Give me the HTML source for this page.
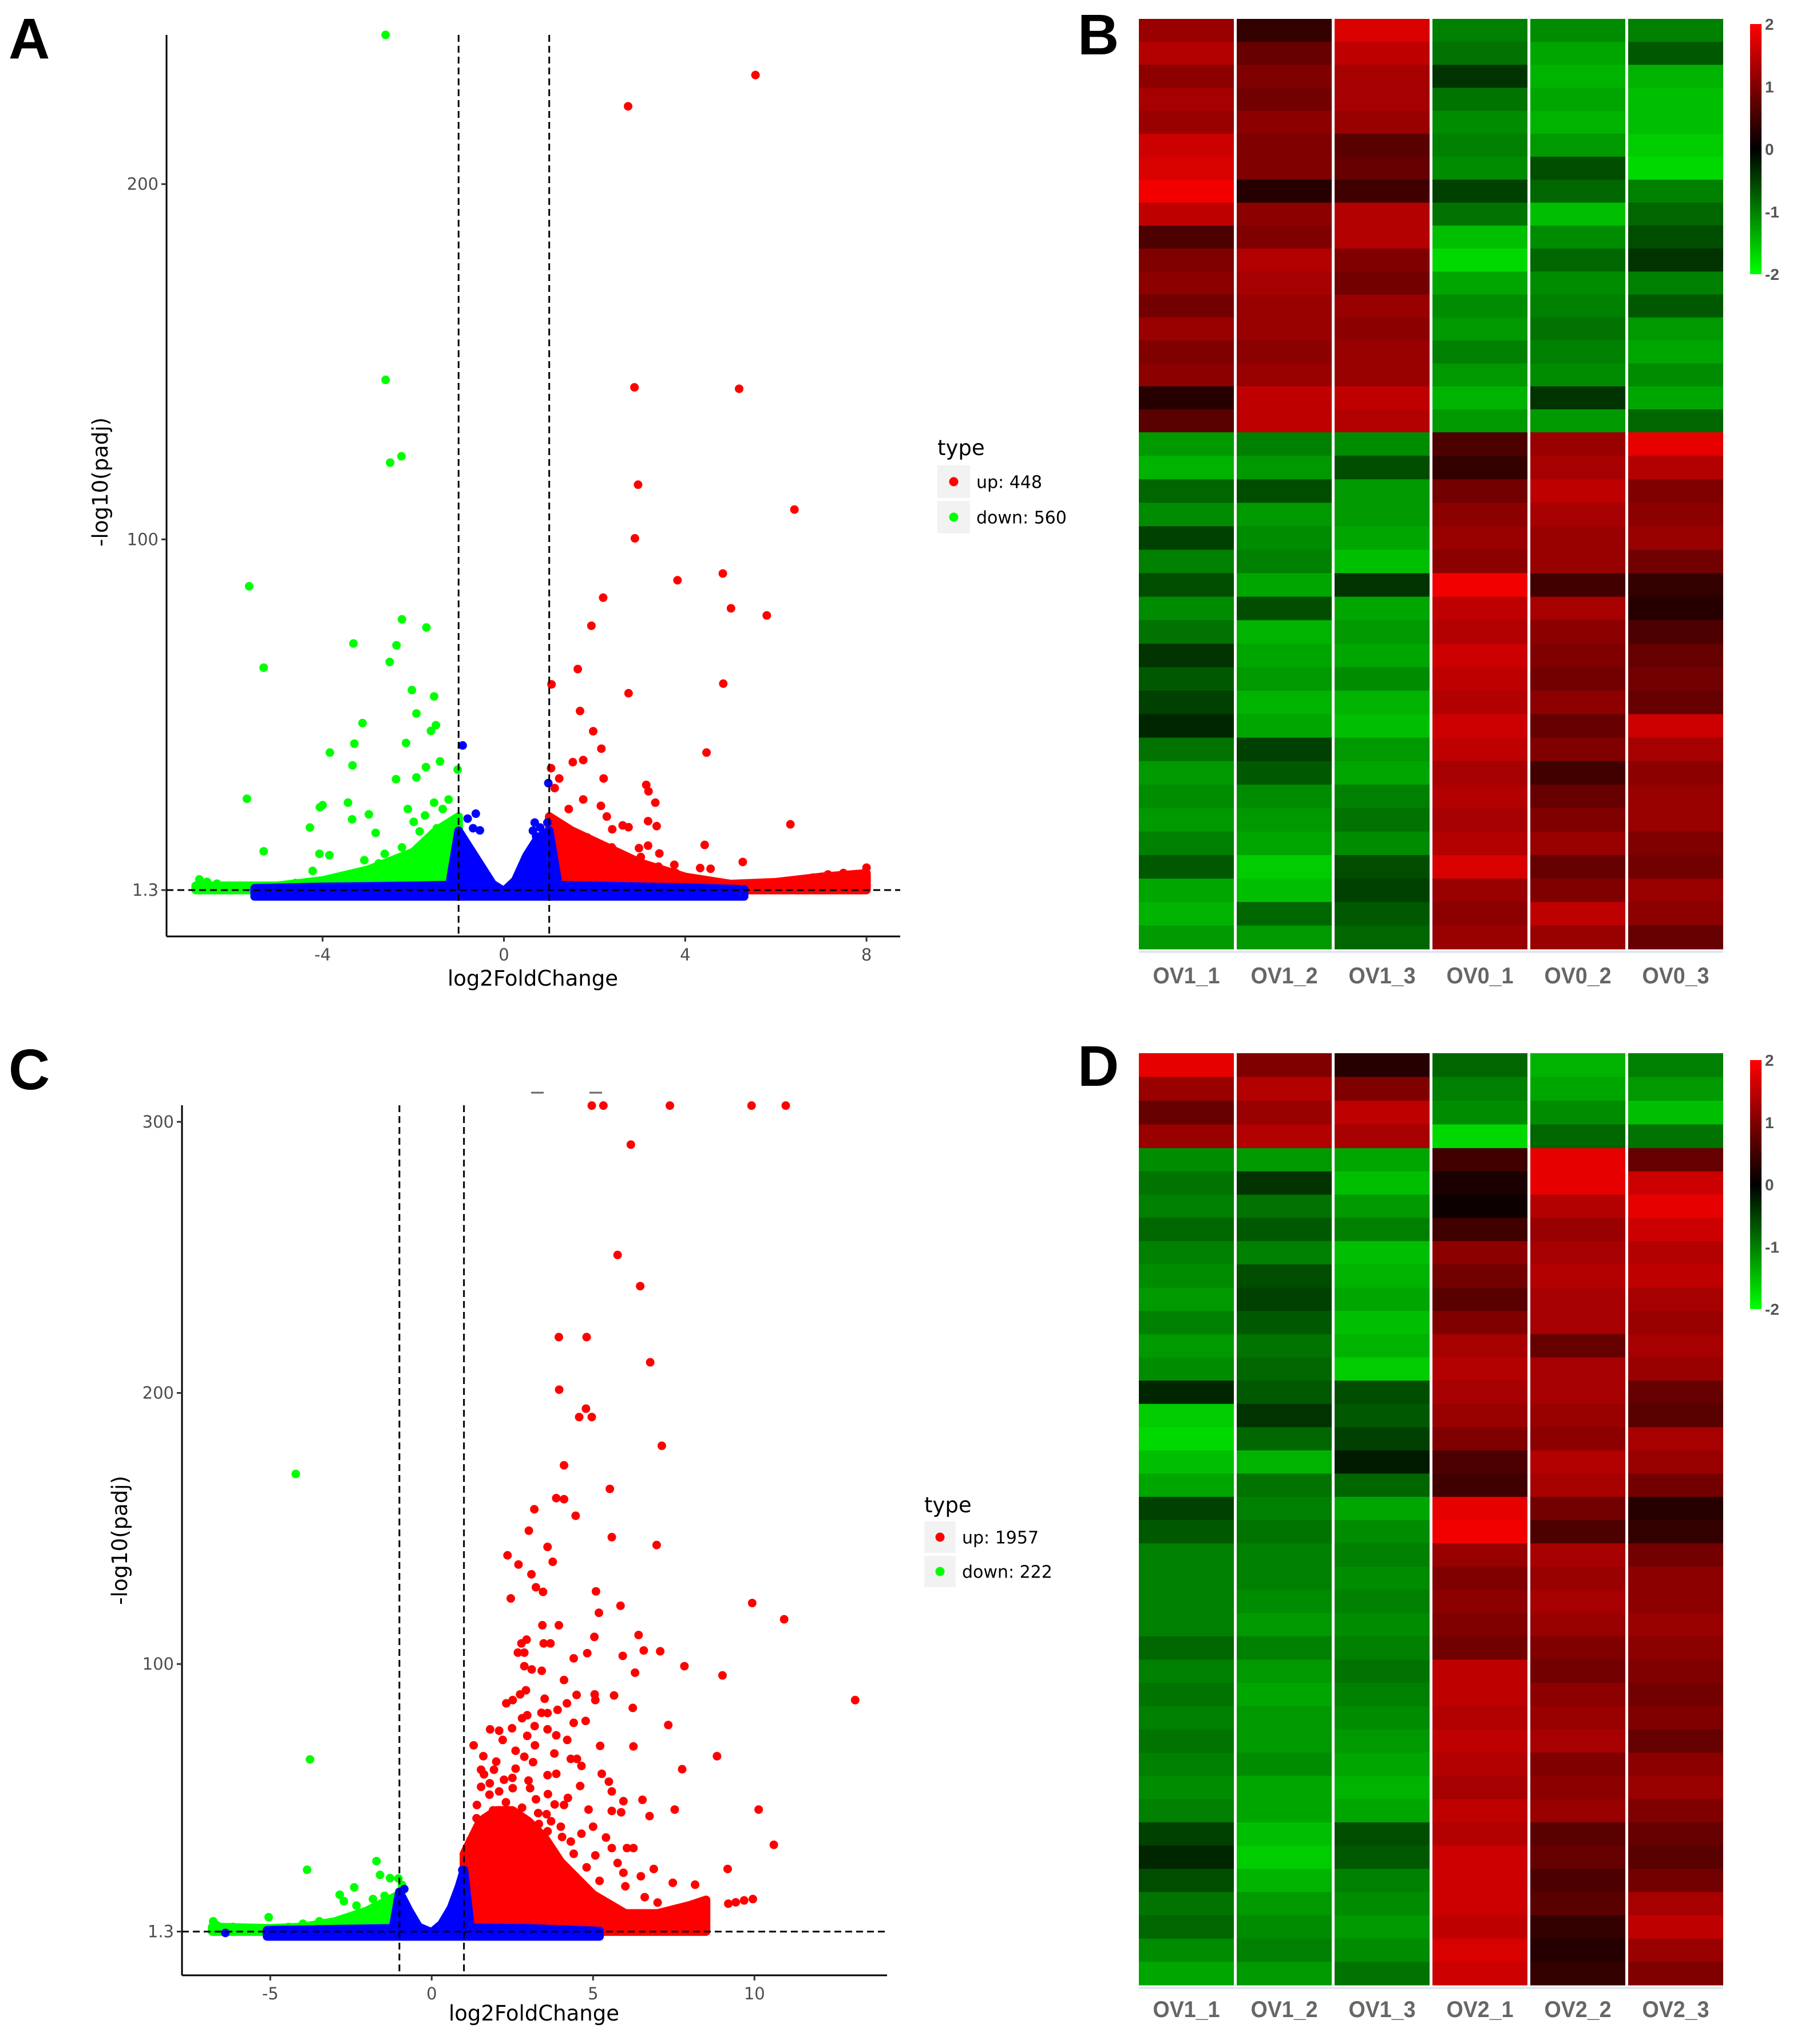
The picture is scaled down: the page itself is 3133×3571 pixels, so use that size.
<!DOCTYPE html>
<html><head><meta charset="utf-8"><style>
html,body{margin:0;padding:0;background:#fff;}
svg{display:block;font-family:"DejaVu Sans","Liberation Sans",sans-serif;}
</style></head><body>
<svg id="fig" xmlns="http://www.w3.org/2000/svg" width="3133" height="3571" viewBox="0 0 3133 3571">
<rect width="3133" height="3571" fill="#fff"/>
<text x="15" y="102" font-family="Liberation Sans, sans-serif" font-weight="bold" font-size="100">A</text>
<text x="1883" y="95" font-family="Liberation Sans, sans-serif" font-weight="bold" font-size="100">B</text>
<text x="15" y="1903" font-family="Liberation Sans, sans-serif" font-weight="bold" font-size="100">C</text>
<text x="1883" y="1897" font-family="Liberation Sans, sans-serif" font-weight="bold" font-size="100">D</text>
<g id="gA"></g>
<g id="gC"></g>
<g id="gB"></g>
<g id="gD"></g>
</svg>
<script>
// ---------- Panel A data ----------
const xTicksA = [-4, 0, 4, 8];
const yTicksA = [1.3, 100, 200];
const yTickLabelsA = ["1.3", "100", "200"];
const downA = [[-2.61,242],[-2.61,144.9],[-2.51,121.6],[-2.26,123.4],[-5.62,86.8],[-5.30,63.9],[-2.25,77.5],[-1.71,75.2],[-3.32,70.7],[-2.37,70.2],[-2.52,65.5],[-2.03,57.6],[-1.54,55.8],[-1.93,51],[-3.12,48.3],[-1.50,47.7],[-1.61,46.1],[-3.30,42.5],[-2.16,42.7],[-3.84,40],[-3.34,36.4],[-1.41,37.5],[-1.72,35.9],[-1.02,35.2],[-5.67,27],[-2.38,32.5],[-1.93,33],[-4.06,24.6],[-4.00,25.2],[-3.44,25.9],[-4.28,18.9],[-2.98,22.6],[-3.35,21.2],[-2.83,17.4],[-5.30,12.2],[-4.07,11.5],[-3.85,11.1],[-4.22,6.7],[-6.72,4.3],[-6.55,3.6],[-6.33,3.1],[-6.00,2.4],[-5.72,2.0],[-4.60,3.3],[-2.12,24.1],[-1.99,20.5],[-1.74,22.3],[-1.54,25.9],[-1.35,24.1],[-1.22,26.8],[-1.86,17.8],[-1.61,15.1],[-2.25,13.3],[-2.63,11.5],[-2.76,8.8],[-3.08,9.7],[-3.41,5.2],[-3.66,4.3],[-1.22,13.3],[-1.16,18.7],[-1.09,16],[-1.48,18.7],[-1.99,9.7],[-2.38,7.9],[-1.54,10.6]];
const upA = [[5.55,230.7],[2.74,221.9],[2.88,142.8],[5.19,142.4],[2.96,115.4],[6.41,108.4],[2.89,100.3],[4.83,90.4],[3.83,88.5],[2.19,83.6],[5.01,80.6],[5.80,78.6],[1.93,75.7],[1.63,63.5],[1.05,59.2],[4.84,59.4],[2.75,56.7],[1.68,51.7],[1.97,46],[2.15,41.1],[4.47,40],[1.52,37.3],[1.75,37.9],[1.04,35.6],[1.22,32.7],[2.20,32.7],[3.14,30.9],[3.19,29.1],[1.12,30],[3.34,25.9],[1.75,26.8],[2.14,25],[1.43,24.1],[3.18,20.7],[3.37,19.3],[6.32,19.8],[2.62,19.5],[2.75,19],[2.27,22],[2.39,18.4],[1.84,16.1],[1.20,16.3],[2.98,13.1],[3.18,13.8],[4.43,14],[5.27,9.2],[3.43,11.6],[3.76,8.4],[4.33,7.5],[4.56,7.3],[8.00,7.6],[7.49,6.1],[7.15,5.7],[6.82,4.8],[6.69,4.1],[6.43,3.6],[6.11,3.1],[1.22,18.7],[1.48,15.1],[1.74,13.3],[1.99,11.5],[1.22,11.5],[2.38,13.3],[2.76,9.7],[3.02,10.6],[1.61,8.8],[2.25,7.9],[3.41,7.9],[3.79,6.1],[1.35,7.9],[4.05,4.3]];
const nsA = [[-0.91,42],[0.98,31.4],[-0.80,21.4],[-0.62,22.8],[-0.68,18.7],[-0.53,18.1],[0.68,20.3],[0.80,18.9],[0.64,18],[0.96,20.3],[0.71,16.4],[-5.40,0]];
const nsBandXA = [-5.5,-4,-2,-1.2,-1.0,-0.8,-0.5,-0.25,0,0.25,0.5,0.75,1.0,1.2,2,4,5.3];
const nsBandTopA = [1.8,2.2,2.5,2.7,18,14,8,3,1.0,4,11,16,18,2.7,2.5,2.0,1.5];
const downBandXA = [-6.8,-5,-4,-3,-2,-1.5,-1.0];
const downBandTopA = [2.5,2.5,4,7,12,18,22];
const upBandXA = [1.0,1.5,2,3,4,5,6,7,8];
const upBandTopA = [22,18,15,9,5,3,3.5,5,6];
const legendA = ["up: 448", "down: 560"];

// ---------- Panel C data ----------
const xTicksC = [-5, 0, 5, 10];
const yTicksC = [1.3, 100, 200, 300];
const yTickLabelsC = ["1.3", "100", "200", "300"];
const upC = [[4.96,306],[5.32,306],[7.38,306],[9.91,306],[10.97,306],[6.17,291.6],[5.76,250.9],[6.46,239.4],[3.94,220.6],[4.80,220.6],[6.77,211.3],[3.95,201.2],[4.78,194.2],[4.57,191.1],[4.96,191.1],[7.13,180.5],[4.10,173.3],[5.52,164.6],[3.18,157.1],[3.86,161.2],[4.10,160.8],[4.46,154.7],[3.01,149.2],[5.58,146.8],[3.59,143.2],[6.97,143.9],[2.35,140.1],[3.75,137.7],[2.69,136.7],[3.09,133.1],[3.23,128.3],[3.45,126.6],[2.45,124.2],[5.09,126.8],[9.93,122.5],[5.18,118.9],[5.85,121.5],[10.92,116.5],[3.43,114.3],[3.94,114.3],[5.04,110],[6.41,110.7],[2.78,107.6],[2.94,109.0],[3.47,107.6],[3.68,107.6],[2.67,104.2],[2.87,104.2],[7.08,104.7],[6.57,105],[4.82,104],[4.40,102.1],[7.83,99.2],[9.01,95.8],[5.92,103],[6.30,96.8],[13.12,86.7],[2.87,99.2],[3.10,98],[3.41,97.5],[4.10,94.1],[4.49,88.6],[5.05,88.8],[5.07,86.7],[5.65,88.4],[6.23,83.8],[6.25,69.6],[7.33,77.5],[7.76,61.2],[8.84,66],[7.53,46.3],[10.13,46.3],[10.60,33.3],[9.17,24.4],[8.16,18.6],[8.43,12.6],[9.19,11.6],[9.42,12.1],[9.68,12.8],[9.95,13.3],[2.31,85.5],[2.74,88.8],[2.51,86.7],[2.92,90.3],[3.50,87.2],[3.90,83.1],[4.19,85.5],[3.59,81.9],[2.96,81.1],[3.19,77.1],[3.59,75.9],[3.86,73.7],[4.40,78.3],[4.77,79],[1.81,75.9],[2.09,75.4],[2.49,76.3],[2.96,73.5],[4.31,65],[4.64,62.4],[5.22,69.8],[5.27,59.5],[5.49,56.6],[5.58,53],[5.94,49.4],[5.87,45.3],[6.53,49.9],[6.75,43.9],[4.86,46.3],[5.58,45.8],[1.53,61],[1.62,59.3],[1.93,61],[2.60,61.4],[2.24,57.3],[2.87,65.8],[3.14,63.8],[3.59,59],[3.86,59.5],[4.22,50.6],[3.81,48.2],[3.56,44.6],[3.23,50.1],[3.05,54.2],[2.51,54.2],[2.09,53],[1.79,51.8],[1.53,54.7],[1.39,43.1],[1.84,42.2],[2.27,44.6],[2.51,39.8],[2.87,38.6],[3.32,41],[3.59,38.3],[4.04,36.2],[4.31,34.5],[4.64,37.4],[5.07,29.4],[5.58,32.1],[6.05,32.1],[6.25,32.1],[6.48,21.7],[6.88,24.4],[5.76,26.6],[5.94,23],[7.47,19.3],[7.56,2.5],[1.2,35],[1.5,38],[1.8,33],[2.1,36],[2.4,34],[2.7,38],[3.0,35],[3.3,33],[1.4,48],[1.9,46],[2.3,49],[2.8,47],[3.3,45],[3.7,42],[4.0,40],[1.6,66],[2.0,64],[2.6,68],[3.2,70],[3.8,67],[1.3,70],[2.2,72],[2.8,80],[3.4,82],[4.2,72],[4.6,55],[5.0,40],[5.4,36],[4.4,30],[4.8,25],[5.2,20],[6.0,18],[6.6,14],[7.0,12],[3.6,52],[4.1,48],[2.5,58],[1.8,56],[3.0,57],[4.5,65]];
const downC = [[-4.21,170.1],[-3.77,64.8],[-3.86,24.1],[-1.71,27.3],[-1.60,22.2],[-1.29,21],[-2.40,17.6],[-2.85,14.9],[-2.72,12.5],[-2.33,10.9],[-2.04,8.5],[-1.82,13.3],[-1.46,14.5],[-1.03,20.9],[-0.92,18.5],[-5.05,6.6],[-6.77,5.1],[-6.66,3.7],[-6.16,3.0],[-3.99,4.2],[-3.48,5.1],[-4.43,3.0]];
const nsC = [[-6.39,0.8],[5.2,0],[-0.85,17],[0.95,24]];
const nsBandXC = [-5.1,-3,-1.2,-1.0,-0.7,-0.4,0,0.3,0.6,0.85,1.0,1.2,3,5.2];
const nsBandTopC = [1.8,2.2,2.5,16,9,3,1.0,4,10,18,24,2.7,2.5,1.5];
const downBandXC = [-6.8,-5,-4,-3,-2,-1.5,-1.0];
const downBandTopC = [3,2.5,3,5,9,12,15];
const upBandXC = [1.0,1.5,2,2.5,3,3.5,4,5,6,7,8,8.5];
const upBandTopC = [30,42,46,46,42,36,27,15,8,8,11,13];
const legendC = ["up: 1957", "down: 222"];

// ---------- Heatmap B data ----------
const samplesB = ["OV1_1","OV1_2","OV1_3","OV0_1","OV0_2","OV0_3"];
const blockCountsB = [448, 560];
const topB = [
 [1.2,1.4,1.1,1.3,1.2,1.6,1.7,1.9,1.5,0.6,1.0,1.1,0.9,1.2,1.0,1.1,0.3,0.7],
 [0.4,0.8,1.0,0.9,1.1,1.0,1.0,0.3,1.1,1.0,1.4,1.3,1.2,1.2,1.1,1.2,1.5,1.5],
 [1.7,1.5,1.3,1.3,1.2,0.7,0.8,0.5,1.4,1.4,1.0,0.9,1.2,1.1,1.2,1.2,1.5,1.4],
 [-1.0,-0.9,-0.4,-0.9,-1.1,-1.0,-1.1,-0.5,-0.9,-1.5,-1.7,-1.3,-1.1,-1.2,-1.0,-1.2,-1.4,-1.2],
 [-1.1,-1.3,-1.4,-1.3,-1.4,-1.2,-0.6,-0.8,-1.5,-1.1,-0.8,-1.1,-1.0,-0.9,-1.0,-1.1,-0.4,-1.2],
 [-1.0,-0.7,-1.4,-1.5,-1.5,-1.6,-1.7,-1.0,-0.8,-0.6,-0.4,-1.0,-0.7,-1.2,-1.3,-1.1,-1.3,-0.8]];
const bottomB = [
 [-1.2,-1.4,-0.8,-1.1,-0.5,-1.0,-0.6,-1.1,-0.9,-0.4,-0.7,-0.5,-0.3,-0.9,-1.2,-1.1,-1.2,-1.0,-0.7,-1.3,-1.4,-1.2],
 [-1.0,-1.2,-0.6,-1.2,-1.1,-1.0,-1.3,-0.6,-1.4,-1.3,-1.2,-1.4,-1.3,-0.5,-0.7,-1.1,-1.2,-1.3,-1.6,-1.5,-0.8,-1.2],
 [-1.1,-0.6,-1.2,-1.2,-1.3,-1.5,-0.4,-1.3,-1.2,-1.3,-1.1,-1.4,-1.5,-1.2,-1.3,-1.0,-0.9,-1.1,-0.6,-0.5,-0.7,-0.8],
 [0.6,0.4,0.9,1.1,1.2,1.1,1.9,1.5,1.4,1.6,1.5,1.4,1.6,1.5,1.3,1.4,1.3,1.4,1.7,1.2,1.1,1.2],
 [1.2,1.3,1.5,1.3,1.2,1.2,0.5,1.3,1.1,1.0,0.9,1.1,0.8,1.0,0.5,0.8,1.0,1.2,0.8,1.0,1.5,1.2],
 [1.8,1.4,1.0,1.1,1.2,0.9,0.4,0.3,0.6,0.8,0.9,0.8,1.6,1.3,1.1,1.2,1.2,1.0,0.9,1.2,1.1,0.8]];

// ---------- Heatmap D data ----------
const samplesD = ["OV1_1","OV1_2","OV1_3","OV2_1","OV2_2","OV2_3"];
const blockCountsD = [222, 1957];
const topD = [[1.8,1.2,0.8,1.2],[1.0,1.4,1.2,1.4],[0.3,1.0,1.5,1.3],[-0.8,-1.0,-1.1,-1.7],[-1.4,-1.3,-1.1,-0.8],[-1.0,-1.2,-1.5,-0.9]];
const bottomD = [
 [-1.1,-0.9,-1.0,-0.8,-1.0,-1.1,-1.2,-1.0,-1.2,-1.1,-0.3,-1.6,-1.7,-1.5,-1.3,-0.5,-0.7,-1.0,-1.0,-1.0,-1.0,-0.8,-1.0,-0.9,-1.0,-0.9,-1.0,-1.1,-1.0,-0.5,-0.3,-0.6,-0.9,-0.8,-1.1,-1.3],
 [-1.2,-0.4,-0.9,-0.7,-1.0,-0.6,-0.5,-0.7,-0.9,-0.8,-0.7,-0.4,-0.8,-1.4,-0.9,-1.0,-0.9,-1.0,-1.0,-1.1,-1.2,-1.0,-1.2,-1.3,-1.2,-1.2,-1.1,-1.3,-1.3,-1.5,-1.6,-1.4,-1.2,-1.1,-1.0,-1.2],
 [-1.3,-1.5,-1.2,-1.0,-1.5,-1.4,-1.3,-1.5,-1.4,-1.6,-0.6,-0.7,-0.5,-0.2,-0.8,-1.3,-1.1,-1.0,-1.1,-1.0,-1.1,-1.0,-0.9,-1.0,-1.1,-1.2,-1.3,-1.4,-1.3,-0.6,-0.7,-1.0,-1.1,-1.2,-1.1,-0.9],
 [0.5,0.2,0.1,0.5,1.1,0.9,0.7,1.0,1.3,1.4,1.3,1.2,1.0,0.6,0.5,1.8,1.9,1.2,1.0,1.1,1.0,0.9,1.5,1.5,1.4,1.5,1.4,1.3,1.5,1.4,1.6,1.6,1.6,1.5,1.7,1.6],
 [1.8,1.8,1.4,1.2,1.3,1.4,1.3,1.3,0.8,1.3,1.3,1.2,1.1,1.4,1.3,0.9,0.6,1.3,1.2,1.3,1.2,1.0,0.9,1.1,1.2,1.3,1.0,1.1,1.2,0.7,0.8,0.6,0.7,0.4,0.3,0.4],
 [0.8,1.6,1.8,1.6,1.4,1.5,1.3,1.2,1.3,1.2,0.8,0.7,1.3,1.2,0.9,0.3,0.4,0.9,1.1,1.1,1.2,1.1,1.0,0.9,1.0,0.8,1.1,1.2,1.0,0.8,0.7,0.9,1.3,1.5,1.2,1.0]];
const colorbarTicks = [2, 1, 0, -1, -2];

const NS = "http://www.w3.org/2000/svg";
function mk(tag, attrs, parent) {
  const e = document.createElementNS(NS, tag);
  for (const k in attrs) e.setAttribute(k, attrs[k]);
  parent.appendChild(e);
  return e;
}
const R = 7.5;

function volcano(g, cfg) {
  const sx = v => cfg.x0 + v * cfg.kx;
  const sy = v => cfg.y13 - (v - 1.3) * cfg.ky;
  function band(xs, tops, bottom, color, name) {
    let pts = [];
    for (let i = 0; i < xs.length; i++) pts.push(sx(xs[i]) + "," + sy(tops[i]));
    for (let i = xs.length - 1; i >= 0; i--) pts.push(sx(xs[i]) + "," + sy(bottom));
    const p = mk("polygon", {points: pts.join(" "), fill: color, stroke: color, "stroke-width": 2 * R, "stroke-linejoin": "round"}, g);
    
    
  }
  band(cfg.downBandX, cfg.downBandTop, 1.3, "#00ff00", "down-density-band");
  band(cfg.upBandX, cfg.upBandTop, 1.3, "#ff0000", "up-density-band");
  function pts(arr, color, name) {
    arr.forEach(d => {
      const c = mk("circle", {cx: sx(d[0]), cy: Math.max(cfg.top, sy(d[1])), r: R, fill: color}, g);
      
      
    });
  }
  pts(cfg.down, "#00ff00", "down-point");
  pts(cfg.up, "#ff0000", "up-point");
  band(cfg.nsBandX, cfg.nsBandTop, -0.5, "#0000ff", "ns-density-band");
  pts(cfg.ns, "#0000ff", "ns-point");
  const dash = {stroke: "#000", "stroke-width": 3, "stroke-dasharray": "12 7", fill: "none"};
  [-1, 1].forEach(v => {
    const l = mk("line", Object.assign({x1: sx(v), x2: sx(v), y1: cfg.top, y2: cfg.bottom}, dash), g);
    
    
  });
  const h = mk("line", Object.assign({x1: cfg.left, x2: cfg.right, y1: sy(1.3), y2: sy(1.3)}, dash), g);
  
  
  const ya = mk("line", {x1: cfg.left, x2: cfg.left, y1: cfg.top, y2: cfg.bottom, stroke: "#000", "stroke-width": 3}, g);
  
  
  const xa = mk("line", {x1: cfg.left, x2: cfg.right, y1: cfg.bottom, y2: cfg.bottom, stroke: "#000", "stroke-width": 3}, g);
  
  
  cfg.xTicks.forEach(v => {
    const t = mk("line", {x1: sx(v), x2: sx(v), y1: cfg.bottom, y2: cfg.bottom + 9, stroke: "#333", "stroke-width": 3}, g);
    
    
    const lb = mk("text", {x: sx(v), y: cfg.bottom + 42, "text-anchor": "middle", "font-size": 29, fill: "#4d4d4d"}, g);
    lb.textContent = String(v);
    
    
  });
  cfg.yTicks.forEach((v, i) => {
    const t = mk("line", {x1: cfg.left - 9, x2: cfg.left, y1: sy(v), y2: sy(v), stroke: "#333", "stroke-width": 3}, g);
    
    
    const lb = mk("text", {x: cfg.left - 14, y: sy(v) + 10, "text-anchor": "end", "font-size": 29, fill: "#4d4d4d"}, g);
    lb.textContent = cfg.yTickLabels[i];
    
    
  });
  const xt = mk("text", {x: cfg.xTitleX, y: cfg.xTitleY, "text-anchor": "middle", "font-size": 37, fill: "#000"}, g);
  xt.textContent = "log2FoldChange";
  
  
  const yt = mk("text", {x: 0, y: 0, "text-anchor": "middle", "font-size": 37, fill: "#000", transform: "translate(" + cfg.yTitleX + "," + cfg.yTitleY + ") rotate(-90)"}, g);
  yt.textContent = "-log10(padj)";
  
  
  const L = cfg.legend;
  const lt = mk("text", {x: L.x, y: L.titleY, "font-size": 37, fill: "#000"}, g);
  lt.textContent = "type";
  
  
  [["#ff0000", "legend-entry-up"], ["#00ff00", "legend-entry-down"]].forEach((c, i) => {
    const y0 = L.boxY + i * (L.box + 5);
    const k = mk("rect", {x: L.x, y: y0, width: L.box, height: L.box, fill: "#f2f2f2"}, g);
    
    
    const d = mk("circle", {cx: L.x + L.box / 2, cy: y0 + L.box / 2, r: 8, fill: c[0]}, g);
    
    
    const tx = mk("text", {x: L.x + L.box + 11, y: y0 + L.box / 2 + 11, "font-size": 30, fill: "#000"}, g);
    tx.textContent = cfg.legendLabels[i];
    
    
  });
}

volcano(document.getElementById("gA"), {
  x0: 880.5, kx: 79.2, y13: 1555, ky: 6.207, left: 291, right: 1573, top: 61, bottom: 1636,
  xTicks: xTicksA, yTicks: yTicksA, yTickLabels: yTickLabelsA,
  up: upA, down: downA, ns: nsA,
  nsBandX: nsBandXA, nsBandTop: nsBandTopA, downBandX: downBandXA, downBandTop: downBandTopA, upBandX: upBandXA, upBandTop: upBandTopA,
  xTitleX: 931, xTitleY: 1722, yTitleX: 188, yTitleY: 842,
  legend: {x: 1638, titleY: 795, boxY: 813, box: 57}, legendLabels: legendA
});
volcano(document.getElementById("gC"), {
  x0: 754.3, kx: 56.4, y13: 3374.6, ky: 4.736, left: 318, right: 1550, top: 1931, bottom: 3451,
  xTicks: xTicksC, yTicks: yTicksC, yTickLabels: yTickLabelsC,
  up: upC, down: downC, ns: nsC,
  nsBandX: nsBandXC, nsBandTop: nsBandTopC, downBandX: downBandXC, downBandTop: downBandTopC, upBandX: upBandXC, upBandTop: upBandTopC,
  xTitleX: 933, xTitleY: 3530, yTitleX: 222, yTitleY: 2691,
  legend: {x: 1615, titleY: 2642, boxY: 2658, box: 55}, legendLabels: legendC
});
[[928, 950], [1030, 1052]].forEach(p => {
  const m = mk("line", {x1: p[0], x2: p[1], y1: 1909, y2: 1909, stroke: "#666", "stroke-width": 3}, document.getElementById("gC"));
  
  
});

function hmColor(v) {
  const t = Math.max(-2, Math.min(2, v)) / 2;
  if (t >= 0) return "rgb(" + Math.round(255 * t) + ",0,0)";
  return "rgb(0," + Math.round(-255 * t) + ",0)";
}
function heatmap(g, cfg) {
  const colX = [1990, 2161, 2332, 2503, 2674, 2845];
  const colW = 166;
  const H = cfg.bottom - cfg.top;
  const splitY = cfg.top + H * cfg.counts[0] / (cfg.counts[0] + cfg.counts[1]);
  cfg.samples.forEach((s, c) => {
    [[cfg.topVals[c], cfg.top, splitY], [cfg.bottomVals[c], splitY, cfg.bottom]].forEach(blk => {
      const vals = blk[0], y0 = blk[1], h = (blk[2] - blk[1]) / vals.length;
      vals.forEach((v, i) => {
        const r = mk("rect", {x: colX[c], y: y0 + i * h, width: colW, height: h + 0.6, fill: hmColor(v)}, g);
        
        
      });
    });
    const lb = mk("text", {x: colX[c] + colW / 2, y: cfg.labelY, "text-anchor": "middle", "font-size": 40, "font-weight": "bold", fill: "#666", "font-family": "Liberation Sans, sans-serif", textLength: 117, lengthAdjust: "spacingAndGlyphs"}, g);
    lb.textContent = s;
    
    
  });
  const bl = mk("line", {x1: 1990, x2: 3011, y1: cfg.bottom + 5, y2: cfg.bottom + 5, stroke: "#d8e0f0", "stroke-width": 3}, g);
  
  
  const gid = "grad" + cfg.id;
  const defs = mk("defs", {}, g);
  const lg = mk("linearGradient", {id: gid, x1: 0, y1: 0, x2: 0, y2: 1}, defs);
  mk("stop", {offset: "0", "stop-color": "#ff0000"}, lg);
  mk("stop", {offset: "0.5", "stop-color": "#000000"}, lg);
  mk("stop", {offset: "1", "stop-color": "#00ff00"}, lg);
  const cb = mk("rect", {x: 3058, y: cfg.cbTop, width: 20, height: cfg.cbBottom - cfg.cbTop, fill: "url(#" + gid + ")"}, g);
  
  
  colorbarTicks.forEach(v => {
    const y = cfg.cbTop + (2 - v) / 4 * (cfg.cbBottom - cfg.cbTop);
    const t = mk("text", {x: 3084, y: y + 10, "font-size": 28, "font-weight": "bold", fill: "#555", "font-family": "Liberation Sans, sans-serif"}, g);
    t.textContent = String(v);
    
    
  });
}
heatmap(document.getElementById("gB"), {id: "B", samples: samplesB, counts: blockCountsB, topVals: topB, bottomVals: bottomB, top: 33, bottom: 1658, labelY: 1718, cbTop: 42, cbBottom: 479});
heatmap(document.getElementById("gD"), {id: "D", samples: samplesD, counts: blockCountsD, topVals: topD, bottomVals: bottomD, top: 1840, bottom: 3468, labelY: 3524, cbTop: 1852, cbBottom: 2287});
</script>
</body></html>
